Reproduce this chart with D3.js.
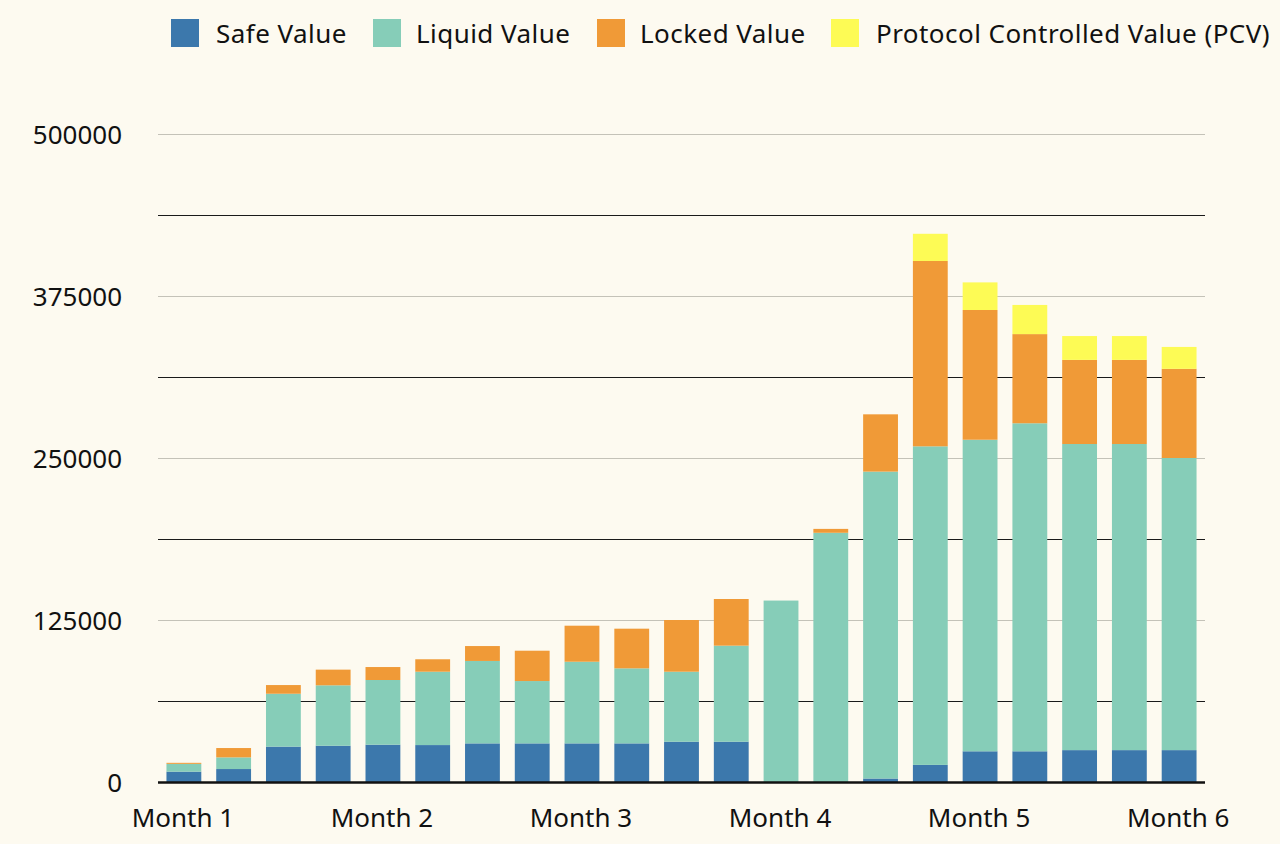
<!DOCTYPE html>
<html>
<head>
<meta charset="utf-8">
<script src="https://cdn.jsdelivr.net/npm/d3@7"></script>
<style>
  html, body { margin: 0; padding: 0; background: #fdfaf0; }
  svg { display: block; }
  text { font-family: "Noto Sans", "DejaVu Sans", sans-serif; fill: #111; }
</style>
</head>
<body>
<svg id="chart" width="1280" height="844"></svg>
<script>
const categories = d3.range(21).map(i => "P" + (i + 1));
const monthLabels = ["Month 1", "Month 2", "Month 3", "Month 4", "Month 5", "Month 6"];
const monthIndex = [0, 4, 8, 12, 16, 20];
const seriesNames = ["Safe Value", "Liquid Value", "Locked Value", "Protocol Controlled Value (PCV)"];
const seriesColors = ["#3c78ac", "#86cdb8", "#f09a37", "#fdfb55"];
const safeValue   = [8000, 10000, 27300, 28000, 28800, 28500, 29800, 29800, 29800, 29800, 31100, 31100, 0, 0, 2700, 13200, 23700, 23700, 24600, 24600, 24600];
const liquidValue = [6000, 9000, 40800, 46600, 49900, 56600, 63600, 48100, 63000, 57900, 54000, 74100, 140000, 192300, 236800, 245800, 240400, 253100, 236200, 236200, 225400];
const lockedValue = [800, 7200, 6700, 12100, 10000, 9600, 11500, 23400, 27800, 30600, 39900, 36000, 0, 3000, 44200, 143000, 100100, 68800, 64900, 64900, 68800];
const pcvValue    = [0, 0, 0, 0, 0, 0, 0, 0, 0, 0, 0, 0, 0, 0, 0, 21000, 21300, 22500, 18400, 18400, 16900];
const yTicks = [0, 125000, 250000, 375000, 500000];
const yMinorLines = [62500, 187500, 312500, 437500];

(function () {
const svg = d3.select("#chart");
const mLeft = 158, mRight = 1205, mTop = 134, mBottom = 782;
const fontSize = "26px";

const x = d3.scaleBand().domain(categories).range([mLeft, mRight]).paddingInner(0.3).paddingOuter(0.17);
const y = d3.scaleLinear().domain([0, 500000]).range([mBottom, mTop]);

const rows = categories.map((c, i) => ({
  cat: c, s0: safeValue[i], s1: liquidValue[i], s2: lockedValue[i], s3: pcvValue[i]
}));
const layers = d3.stack().keys(["s0", "s1", "s2", "s3"])(rows);

svg.append("g").selectAll("line").data(yTicks.filter(t => t > 0)).join("line")
  .attr("x1", mLeft).attr("x2", mRight)
  .attr("y1", d => Math.round(y(d)) + 0.5).attr("y2", d => Math.round(y(d)) + 0.5)
  .attr("stroke", "#c4c2b8").attr("stroke-width", 1.2);
svg.append("g").selectAll("line").data(yMinorLines).join("line")
  .attr("x1", mLeft).attr("x2", mRight)
  .attr("y1", d => Math.round(y(d)) + 0.5).attr("y2", d => Math.round(y(d)) + 0.5)
  .attr("stroke", "#1a1a1a").attr("stroke-width", 1.2);

svg.append("g").selectAll("g").data(layers).join("g")
  .attr("fill", (d, i) => seriesColors[i])
  .selectAll("rect").data(d => d).join("rect")
  .attr("x", d => x(d.data.cat))
  .attr("width", x.bandwidth())
  .attr("y", d => y(d[1]))
  .attr("height", d => Math.max(0, y(d[0]) - y(d[1])));

svg.append("line").attr("x1", mLeft).attr("x2", mRight)
  .attr("y1", mBottom + 0.5).attr("y2", mBottom + 0.5)
  .attr("stroke", "#111").attr("stroke-width", 2.5);

const yAxis = d3.axisLeft(y).tickValues(yTicks).tickSize(0).tickPadding(0).tickFormat(d3.format("d"));
const gy = svg.append("g").attr("transform", `translate(122,1)`).call(yAxis);
gy.select(".domain").remove();
gy.selectAll("text").style("font-size", fontSize).style("font-family", "'Noto Sans', sans-serif").attr("fill", "#111");

const xAxis = d3.axisBottom(x)
  .tickValues(monthIndex.map(i => categories[i]))
  .tickFormat(d => monthLabels[monthIndex.indexOf(categories.indexOf(d))])
  .tickSize(0).tickPadding(0);
const gx = svg.append("g").attr("transform", `translate(-1,809)`).call(xAxis);
gx.select(".domain").remove();
gx.selectAll("text").style("font-size", fontSize).style("font-family", "'Noto Sans', sans-serif").attr("fill", "#111");

const legendX = [171, 373, 597, 831];
const legendTextDx = [45, 43, 43, 45];
const lg = svg.append("g").selectAll("g").data(seriesNames).join("g")
  .attr("transform", (d, i) => `translate(${legendX[i]},19)`);
lg.append("rect").attr("width", 28).attr("height", 28).attr("fill", (d, i) => seriesColors[i]);
lg.append("text").attr("x", (d, i) => legendTextDx[i]).attr("y", 24)
  .style("font-size", fontSize).style("letter-spacing", "0.45px").text(d => d);
})();
</script>
</body>
</html>
